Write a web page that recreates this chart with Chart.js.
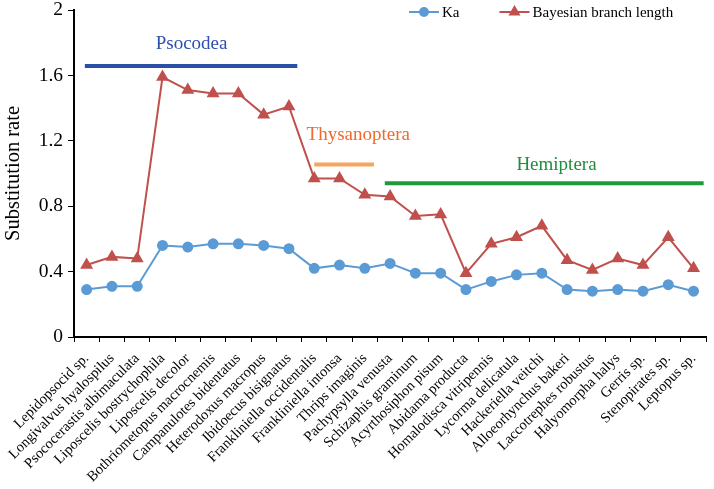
<!DOCTYPE html>
<html>
<head>
<meta charset="utf-8">
<script src="https://cdn.jsdelivr.net/npm/chart.js@4/dist/chart.umd.min.js"></script>
<style>
  html, body { margin: 0; padding: 0; background: #fff; }
  #wrap { width: 714px; height: 489px; }
</style>
</head>
<body>
<div id="wrap"><canvas id="rateChart"></canvas></div>
<script>
// species on the x axis
const species = [
    'Lepidopsocid sp.', 'Longivalvus hyalospilus', 'Psococerastis albimaculata',
    'Liposcelis bostrychophila', 'Liposcelis decolor', 'Bothriometopus macrocnemis',
    'Campanulotes bidentatus', 'Heterodoxus macropus', 'Ibidoecus bisignatus',
    'Frankliniella occidentalis', 'Frankliniella intonsa', 'Thrips imaginis',
    'Pachypsylla venusta', 'Schizaphis graminum', 'Acyrthosiphon pisum',
    'Abidama producta', 'Homalodisca vitripennis', 'Lycorma delicatula',
    'Hackeriella veitchi', 'Alloeorhynchus bakeri', 'Laccotrephes robustus',
    'Halyomorpha halys', 'Gerris sp.', 'Stenopirates sp.', 'Leptopus sp.'
];

const kaValues = [
    0.29, 0.31, 0.31, 0.56, 0.55, 0.57, 0.57, 0.56, 0.54, 0.42,
    0.44, 0.42, 0.45, 0.39, 0.39, 0.29, 0.34, 0.38, 0.39, 0.29,
    0.28, 0.29, 0.28, 0.32, 0.28
];

const branchLengths = [
    0.44, 0.49, 0.48, 1.59, 1.51, 1.49, 1.49, 1.36, 1.41, 0.97,
    0.97, 0.87, 0.86, 0.74, 0.75, 0.39, 0.57, 0.61, 0.68, 0.47,
    0.41, 0.48, 0.44, 0.61, 0.42
];

const yTicks = [0, 0.4, 0.8, 1.2, 1.6, 2];

// taxonomic groups: bar span (category index), bar level, label anchor
const groupNames = ['Psocodea', 'Thysanoptera', 'Hemiptera'];
const groupFrom = [-0.07, 9.0, 11.79];
const groupTo = [8.33, 11.36, 24.4];
const groupLevel = [1.657, 1.055, 0.94];
const groupLabelX = [4.15, 10.74, 18.58];
const groupLabelY = [1.79, 1.235, 1.05];

const groupBarColors = ['#2a50a6', '#f6a55c', '#1e9a3c'];
const groupTextColors = ['#2d4fae', '#f2692a', '#1f8e3c'];

const KA_COLOR = '#5b9bd5';
const BL_COLOR = '#c0504d';
const FONT = '"Liberation Serif", "Times New Roman", serif';

// draws the group bars and names plus the legend
const groupsPlugin = {
    id: 'groups',
    afterDatasetsDraw(chart) {
        const { ctx, scales } = chart;
        const x = scales.x, y = scales.y;
        const step = x.getPixelForValue(1) - x.getPixelForValue(0);
        const px = v => x.getPixelForValue(0) + v * step;

        ctx.save();
        groupNames.forEach((name, i) => {
            ctx.strokeStyle = groupBarColors[i];
            ctx.lineWidth = 4;
            ctx.beginPath();
            ctx.moveTo(px(groupFrom[i]), y.getPixelForValue(groupLevel[i]));
            ctx.lineTo(px(groupTo[i]), y.getPixelForValue(groupLevel[i]));
            ctx.stroke();

            ctx.fillStyle = groupTextColors[i];
            ctx.font = '19px ' + FONT;
            ctx.textAlign = 'center';
            ctx.textBaseline = 'middle';
            ctx.fillText(name, px(groupLabelX[i]), y.getPixelForValue(groupLabelY[i]));
        });

        // legend
        const items = chart.data.datasets.map(ds => ({
            label: ds.label, color: ds.borderColor, style: ds.pointStyle
        }));
        let lx = 409;
        const ly = 12;
        ctx.font = '15px ' + FONT;
        ctx.textAlign = 'left';
        items.forEach(it => {
            ctx.strokeStyle = it.color;
            ctx.fillStyle = it.color;
            ctx.lineWidth = 2;
            ctx.beginPath();
            ctx.moveTo(lx, ly);
            ctx.lineTo(lx + 30, ly);
            ctx.stroke();
            Chart.helpers.drawPoint(ctx, {
                pointStyle: it.style, radius: it.style === 'triangle' ? 5 : 4, borderWidth: 1
            }, lx + 15, ly);
            ctx.fillStyle = '#000';
            ctx.fillText(it.label, lx + 33, ly + 1);
            lx += 33 + ctx.measureText(it.label).width + 40;
        });
        ctx.restore();
    }
};

const ctx = document.getElementById('rateChart').getContext('2d');
new Chart(ctx, {
    type: 'line',
    data: {
        labels: species,
        datasets: [{
            label: 'Ka',
            data: kaValues,
            borderColor: KA_COLOR,
            backgroundColor: KA_COLOR,
            borderWidth: 2,
            pointStyle: 'circle',
            pointRadius: 4.5,
            tension: 0
        }, {
            label: 'Bayesian branch length',
            data: branchLengths,
            borderColor: BL_COLOR,
            backgroundColor: BL_COLOR,
            borderWidth: 2,
            pointStyle: 'triangle',
            pointRadius: 5.5,
            tension: 0
        }]
    },
    options: {
        responsive: true,
        maintainAspectRatio: false,
        animation: false,
        layout: {
            padding: { top: 10, right: 6, left: 0, bottom: 0 }
        },
        plugins: {
            legend: { display: false },
            tooltip: { enabled: false }
        },
        scales: {
            x: {
                type: 'category',
                offset: true,
                grid: {
                    offset: true,
                    drawOnChartArea: false,
                    drawTicks: true,
                    tickLength: 5,
                    color: '#000'
                },
                border: { color: '#000', width: 2 },
                ticks: {
                    color: '#000',
                    autoSkip: false,
                    maxRotation: 45,
                    minRotation: 45,
                    padding: 8,
                    font: { family: FONT, size: 14.5 }
                },
                afterFit: scale => { scale.height = 152; }
            },
            y: {
                min: 0,
                max: 2,
                afterBuildTicks: scale => {
                    scale.ticks = yTicks.map(v => ({ value: v }));
                },
                grid: {
                    drawOnChartArea: false,
                    tickLength: 6,
                    color: '#000'
                },
                border: { color: '#000', width: 2 },
                ticks: {
                    color: '#000',
                    padding: 5,
                    font: { family: FONT, size: 19.5 },
                    callback: v => String(v)
                },
                title: {
                    display: true,
                    text: 'Substitution rate',
                    color: '#000',
                    padding: { top: 1, bottom: 2 },
                    font: { family: FONT, size: 20.5 }
                },
                afterFit: scale => {
                    scale.width = 74;
                    scale.paddingTop = 0;
                    scale.paddingBottom = 0;
                }
            }
        }
    },
    plugins: [groupsPlugin]
});
</script>
</body>
</html>
